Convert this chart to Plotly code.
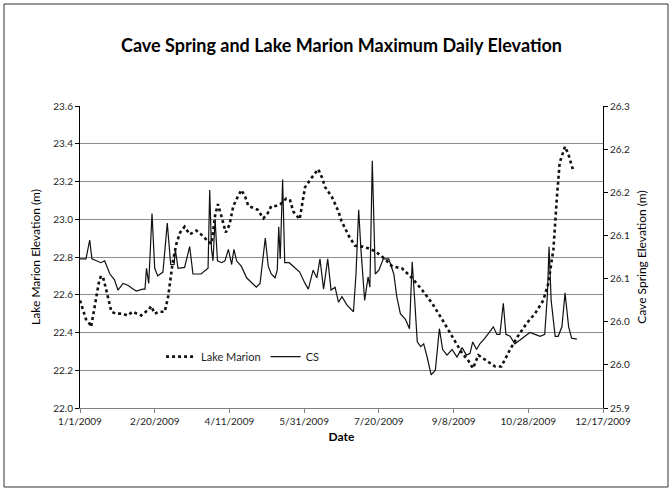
import pandas as pd
import plotly.graph_objects as go

# ---- data ----
start_date = "2009-01-01"

lake_days = [0, 2, 4, 5.5, 7.4, 9, 11, 12.5, 14, 15.5, 17.6, 19.5, 21, 24, 28, 32, 35, 38, 41, 44,
             46, 47.6, 50, 53, 56.7, 59, 62, 64.5, 67, 70, 73.4, 77.8, 81, 84.8, 88, 90.4, 92.3,
             94.5, 97.5, 100, 102.6, 105, 108, 110.5, 112.7, 116, 119, 122.7, 125.5, 128, 131,
             134, 138, 140.6, 142.8, 147, 150.6, 155, 159.5, 162, 164, 168.5, 173, 175, 180, 184,
             189, 193, 197.7, 204, 209, 215.5, 222, 229, 235.6, 242.3, 249, 255.7, 260, 263,
             266.6, 272, 277.8, 282, 287.8, 293, 299, 304.5, 310, 313.4, 316.8, 319, 321, 324.6,
             327, 330]
lake_marion = [22.57, 22.52, 22.47, 22.46, 22.43, 22.50, 22.60, 22.66, 22.70, 22.69, 22.625, 22.56,
               22.51, 22.50, 22.50, 22.49, 22.51, 22.50, 22.49, 22.51, 22.52, 22.54, 22.50, 22.51,
               22.51, 22.59, 22.77, 22.87, 22.93, 22.96, 22.92, 22.94, 22.92, 22.89, 22.87, 23.02,
               23.08, 23.02, 22.93, 22.97, 23.07, 23.11, 23.155, 23.12, 23.07, 23.06, 23.05, 23.005,
               23.03, 23.07, 23.07, 23.08, 23.11, 23.10, 23.04, 23.00, 23.17, 23.22, 23.265, 23.22,
               23.17, 23.12, 23.04, 22.99, 22.91, 22.86, 22.855, 22.846, 22.83, 22.79, 22.75, 22.74,
               22.69, 22.625, 22.555, 22.47, 22.38, 22.29, 22.25, 22.21, 22.28, 22.25, 22.22, 22.22,
               22.31, 22.38, 22.45, 22.50, 22.57, 22.66, 22.84, 23.10, 23.30, 23.385, 23.34, 23.26]

cs_days = [0, 4, 6.5, 8, 11, 14, 16.5, 20, 23, 25.4, 28.8, 32, 35.5, 37.7, 42, 43.5, 44.5, 46, 48.2,
           50, 52, 55.5, 58.4, 60.7, 63, 63.8, 65.6, 70, 73.4, 75.6, 81, 85.7, 86.8, 88, 89, 90.4,
           92, 94.8, 97, 99.3, 101.5, 103, 104.8, 108, 111.5, 115, 118, 120.5, 124, 126, 128, 130.5,
           132, 133, 134, 135.6, 137, 140, 142.8, 147, 150.6, 152.8, 156, 158.5, 160.6, 163, 165.8,
           168, 170.7, 173, 175.3, 178.7, 183, 184.7, 186.5, 188, 190.5, 192.8, 194, 195.6, 197.6,
           200, 203, 206.6, 210, 212, 214.4, 217.8, 220.5, 222.3, 224, 225.7, 228, 230, 232.3, 235,
           237.8, 240.5, 242.7, 245.6, 249, 252.3, 255.7, 258.6, 261, 262.8, 265.4, 267.6, 271, 273,
           276.6, 279, 281, 283.3, 285, 287.8, 291, 294.5, 297.9, 301, 304.5, 308, 311, 312.8, 313.9,
           315.3, 318, 320, 322.5, 324.6, 327, 329, 332.5]
cs = [26.0728, 26.0728, 26.0947, 26.0728, 26.0706, 26.0684, 26.0706, 26.0553, 26.0488, 26.0367,
      26.0444, 26.0422, 26.0378, 26.0356, 26.0378, 26.0378, 26.0619, 26.0444, 26.1253, 26.0619,
      26.0531, 26.0575, 26.1144, 26.0663, 26.0663, 26.0838, 26.0619, 26.0630, 26.0870, 26.0553,
      26.0553, 26.0619, 26.1527, 26.0838, 26.0706, 26.1188, 26.0706, 26.0684, 26.0706, 26.0838,
      26.0663, 26.0838, 26.0706, 26.0641, 26.0509, 26.0444, 26.0400, 26.0444, 26.0969, 26.0641,
      26.0553, 26.0509, 26.0597, 26.1100, 26.0728, 26.1647, 26.0684, 26.0684, 26.0641, 26.0575,
      26.0444, 26.0378, 26.0597, 26.0509, 26.0728, 26.0378, 26.0728, 26.0367, 26.0400, 26.0225,
      26.0291, 26.0192, 26.0116, 26.0553, 26.1297, 26.0838, 26.0247, 26.0520, 26.0400, 26.1866,
      26.0553, 26.0597, 26.0728, 26.0728, 26.0553, 26.0291, 26.0094, 26.0028, 25.9919, 26.0695,
      26.0247, 25.9766, 25.9711, 25.9744, 25.9591, 25.9383, 25.9438, 25.9919, 25.9678, 25.9613,
      25.9678, 25.9591, 25.9700, 25.9613, 25.9634, 25.9766, 25.9678, 25.9744, 25.9809, 25.9853,
      25.9941, 25.9853, 25.9853, 26.0214, 25.9853, 25.9831, 25.9744, 25.9788, 25.9831, 25.9875,
      25.9853, 25.9831, 25.9853, 26.0313, 26.0870, 26.0247, 25.9831, 25.9831, 25.9941, 26.0334,
      25.9941, 25.9809, 25.9798]

x_tick_days = [0, 50, 100, 150, 200, 250, 300, 350]
x_tick_labels = ["1/1/2009", "2/20/2009", "4/11/2009", "5/31/2009", "7/20/2009",
                 "9/8/2009", "10/28/2009", "12/17/2009"]
left_ticks = [22.0, 22.2, 22.4, 22.6, 22.8, 23.0, 23.2, 23.4, 23.6]
left_labels = ["22.0", "22.2", "22.4", "22.6", "22.8", "23.0", "23.2", "23.4", "23.6"]
right_ticks = [25.9, 25.95, 26.0, 26.05, 26.1, 26.15, 26.2, 26.25]
right_labels = ["25.9", "26.0", "26.0", "26.1", "26.1", "26.2", "26.2", "26.3"]

# ---- build ----
t0 = pd.Timestamp(start_date)
to_dates = lambda days: [t0 + pd.Timedelta(days=d) for d in days]

FONT = "Lato, Open Sans, sans-serif"
TXT = "#1e1e1e"

fig = go.Figure()
fig.add_trace(go.Scatter(x=to_dates(lake_days), y=lake_marion, name="Lake Marion",
                         mode="lines", line=dict(color="#111111", width=2.6, dash="dot"),
                         yaxis="y"))
fig.add_trace(go.Scatter(x=to_dates(cs_days), y=cs, name="CS",
                         mode="lines", line=dict(color="#111111", width=1.2),
                         yaxis="y2"))

fig.update_layout(
    width=671, height=491,
    margin=dict(l=80, r=68, t=106, b=83),
    paper_bgcolor="white", plot_bgcolor="white",
    font=dict(family=FONT, color=TXT, size=10),
    title=dict(text="<b>Cave Spring and Lake Marion Maximum Daily Elevation</b>",
               x=0.5, xref="paper", xanchor="center",
               y=1 - 46 / 491, yref="container", yanchor="middle",
               font=dict(family=FONT, size=18, color="#000000")),
    xaxis=dict(type="date",
               range=[t0, t0 + pd.Timedelta(days=350)],
               tickvals=to_dates(x_tick_days), ticktext=x_tick_labels,
               showgrid=False, showline=True, linecolor="#808080", linewidth=1,
               ticks="outside", ticklen=4, tickcolor="#808080",
               tickfont=dict(size=10, color=TXT),
               title=dict(text="<b>Date</b>", font=dict(size=12, color="#000000"), standoff=6),
               zeroline=False),
    yaxis=dict(range=[22.0, 23.6], tickvals=left_ticks, ticktext=left_labels,
               showgrid=True, gridcolor="#8c8c8c", gridwidth=1,
               showline=True, linecolor="#000000", linewidth=1,
               ticks="outside", ticklen=4, tickcolor="#000000",
               tickfont=dict(size=10, color=TXT),
               title=dict(text="Lake Marion Elevation (m)", font=dict(size=12, color="#000000"),
                          standoff=10),
               zeroline=False),
    yaxis2=dict(range=[25.9, 26.25], tickvals=right_ticks, ticktext=right_labels,
                overlaying="y", side="right", showgrid=False,
                showline=True, linecolor="#000000", linewidth=1,
                ticks="outside", ticklen=4, tickcolor="#000000",
                tickfont=dict(size=10, color=TXT),
                title=dict(text="Cave Spring Elevation (m)", font=dict(size=12, color="#000000"),
                           standoff=8),
                zeroline=False),
    legend=dict(orientation="h", x=0.155, y=0.17, xanchor="left", yanchor="middle",
                bgcolor="rgba(255,255,255,0)", font=dict(size=11, color=TXT),
                itemwidth=30, tracegroupgap=0),
    showlegend=True,
    shapes=[dict(type="rect", xref="paper", yref="paper",
                 x0=(4 - 80) / 523, x1=(668 - 80) / 523,
                 y0=(408 - 487) / 302, y1=(408 - 4) / 302,
                 line=dict(color="#333333", width=1), fillcolor="rgba(0,0,0,0)")],
)

fig.write_html("out.html",
               config={"displayModeBar": False},
               post_script="document.body.style.margin='0';document.body.style.overflow='hidden';")
